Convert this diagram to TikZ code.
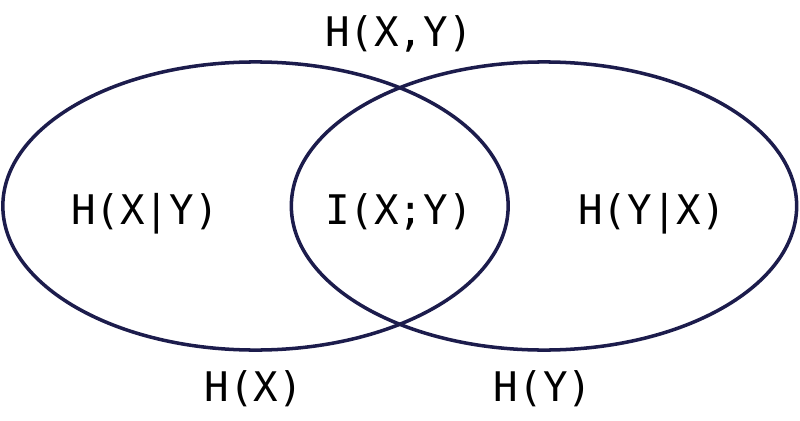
\documentclass[tikz,border=0pt]{standalone}
\usepackage{fontspec}
\setmonofont{DejaVu Sans Mono}
\usepackage{tikz}
\usetikzlibrary{positioning,shapes.geometric}
\definecolor{azulVenn}{HTML}{1C1C4C}

\begin{document}
\begin{tikzpicture}[
  x=0.025cm, y=-0.025cm,
  conjunto/.style={ellipse, draw=azulVenn, line width=2.5pt, minimum width=12.63cm, minimum height=7.2cm, inner sep=0pt},
  etiqueta/.style={font=\ttfamily\fontsize{29}{31}\selectfont, anchor=base, inner sep=0pt}
]
\useasboundingbox (0,0) rectangle (800,420);
\node[conjunto] (setX) at (255.5,206) {};
\node[conjunto] (setY) at (544,206) {};
\node[etiqueta] (hxy) at (399,47) {H(X,Y)};
\node[etiqueta] (hxgy) at (145,224) {H(X|Y)};
\node[etiqueta] (ixy) at (399,224) {I(X;Y)};
\node[etiqueta] (hygx) at (652,224) {H(Y|X)};
\node[etiqueta] (hx) at (254,401) {H(X)};
\node[etiqueta] (hy) at (543,401) {H(Y)};
\end{tikzpicture}
\end{document}
